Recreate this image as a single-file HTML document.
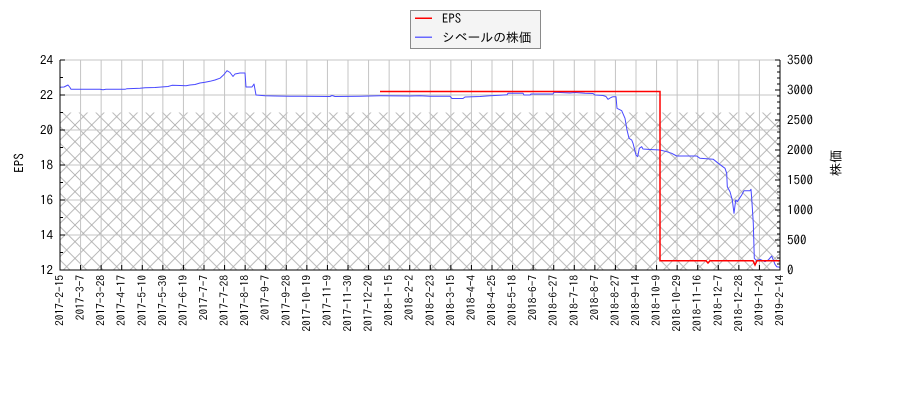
<!DOCTYPE html>
<html><head><meta charset="utf-8"><style>
html,body{margin:0;padding:0;background:#fff;}
svg{display:block;}
text{font-family:"IPAGothic","DejaVu Sans","Liberation Sans","Noto Sans CJK JP",sans-serif;fill:#000;}
</style></head><body>
<svg width="900" height="400" viewBox="0 0 900 400" xmlns="http://www.w3.org/2000/svg">
<defs>
<pattern id="hx" patternUnits="userSpaceOnUse" x="0" y="0" width="16.667" height="16.667">
<path d="M0,0 L16.667,16.667 M0,16.667 L16.667,0" stroke="#ababab" stroke-width="0.8" fill="none"/>
</pattern>
<clipPath id="pc"><rect x="60" y="60" width="720" height="210"/></clipPath>
</defs>
<rect x="0" y="0" width="900" height="400" fill="#fff"/>
<rect x="60" y="112.5" width="720" height="157.5" fill="url(#hx)"/>
<!-- grid -->
<path fill="none" stroke="#c4c4c4" stroke-width="1" d="M80.571,60V270 M101.143,60V270 M121.714,60V270 M142.286,60V270 M162.857,60V270 M183.429,60V270 M204,60V270 M224.571,60V270 M245.143,60V270 M265.714,60V270 M286.286,60V270 M306.857,60V270 M327.429,60V270 M348,60V270 M368.571,60V270 M389.143,60V270 M409.714,60V270 M430.286,60V270 M450.857,60V270 M471.429,60V270 M492,60V270 M512.571,60V270 M533.143,60V270 M553.714,60V270 M574.286,60V270 M594.857,60V270 M615.429,60V270 M636,60V270 M656.571,60V270 M677.143,60V270 M697.714,60V270 M718.286,60V270 M738.857,60V270 M759.429,60V270 M60,60H780 M60,95H780 M60,130H780 M60,165H780 M60,200H780 M60,235H780"/>
<!-- series -->
<g clip-path="url(#pc)">
<path fill="none" stroke="#4848ff" stroke-width="1" stroke-linejoin="round" d="M60,87.3 L64,87 L68,85 L70,87.5 L71,89.3 L100,89.3 L103,89.8 L106,89.3 L125,89.3 L127,88.7 L140,88.3 L145,87.8 L155,87.5 L163,86.9 L168,86.5 L172,85.3 L180,85.5 L186,85.8 L190,85 L195,84.5 L200,83 L205,82.3 L210,81.3 L215,80 L220,78.2 L224,74.5 L227,70.7 L230,72.5 L233,76.5 L235,74 L240,73 L245,73 L246,87 L252,87 L254,84 L256,95 L265,95.7 L275,96 L290,96.3 L300,96.3 L330,96.5 L332,95.5 L335,96.5 L360,96.3 L380,95.7 L410,96 L420,95.7 L430,96.3 L450,96.3 L452,98.5 L463,98.5 L465,97 L480,96.5 L490,95.8 L500,95.3 L507,94.8 L508,93.3 L523,93.3 L524,95 L530,95 L531,94 L553,94 L554,92.3 L560,92.5 L570,93 L575,92.5 L585,93.3 L593,93.5 L595,95 L603,95.5 L606,96.5 L608,99.3 L611,97.5 L613,96.7 L616,96.7 L617,108.3 L621.7,110.7 L625,118.3 L627,130 L629,138.3 L631.7,140 L633,143.3 L636,155 L637.7,156.7 L639.3,148.3 L641.7,146.7 L643,149 L650,149.5 L660,150 L666.7,151.7 L671.7,153.3 L676.7,156 L696.7,156 L700,158.3 L713.3,159.3 L718.3,163.3 L725,168.3 L726.7,173.3 L727.3,186.7 L730,191.7 L732.3,200 L734,213.3 L735.7,200 L737.3,201.7 L741.7,195 L744,190.7 L750,190.7 L751,189.3 L751.7,198.3 L753.3,223.3 L754.3,258.3 L756.7,260.7 L760,259.3 L765,261.7 L768.3,260 L771.7,256 L775,264.3 L776.7,266.7 L780,267.3"/>
<path fill="none" stroke="#ff0000" stroke-width="1.5" d="M380,91.5 H660 V260.7 H706 L708,263 L710,260.7 H753 L755,265 L757,260.7 H780"/>
</g>
<!-- spines -->
<g stroke="#000" stroke-width="1" fill="none">
<line x1="60" y1="60" x2="60" y2="270.5"/>
<line x1="59.5" y1="270" x2="780.5" y2="270"/>
<line x1="780" y1="60" x2="780" y2="270.5"/>
</g>
<!-- ticks -->
<path fill="none" stroke="#000" stroke-width="1" d="M60,270v-5 M80.571,270v-5 M101.143,270v-5 M121.714,270v-5 M142.286,270v-5 M162.857,270v-5 M183.429,270v-5 M204,270v-5 M224.571,270v-5 M245.143,270v-5 M265.714,270v-5 M286.286,270v-5 M306.857,270v-5 M327.429,270v-5 M348,270v-5 M368.571,270v-5 M389.143,270v-5 M409.714,270v-5 M430.286,270v-5 M450.857,270v-5 M471.429,270v-5 M492,270v-5 M512.571,270v-5 M533.143,270v-5 M553.714,270v-5 M574.286,270v-5 M594.857,270v-5 M615.429,270v-5 M636,270v-5 M656.571,270v-5 M677.143,270v-5 M697.714,270v-5 M718.286,270v-5 M738.857,270v-5 M759.429,270v-5 M780,270v-5
M60,60h5 M60,95h5 M60,130h5 M60,165h5 M60,200h5 M60,235h5 M60,270h5
M60,77.5h3 M60,112.5h3 M60,147.5h3 M60,182.5h3 M60,217.5h3 M60,252.5h3
M780,60h-5 M780,90h-5 M780,120h-5 M780,150h-5 M780,180h-5 M780,210h-5 M780,240h-5 M780,270h-5
M780,264h-3 M780,258h-3 M780,252h-3 M780,246h-3 M780,234h-3 M780,228h-3 M780,222h-3 M780,216h-3 M780,204h-3 M780,198h-3 M780,192h-3 M780,186h-3 M780,174h-3 M780,168h-3 M780,162h-3 M780,156h-3 M780,144h-3 M780,138h-3 M780,132h-3 M780,126h-3 M780,114h-3 M780,108h-3 M780,102h-3 M780,96h-3 M780,84h-3 M780,78h-3 M780,72h-3 M780,66h-3"/>
<!-- left labels -->
<g font-size="13" text-anchor="end" dominant-baseline="central">
<text x="53" y="60" dominant-baseline="central">24</text>
<text x="53" y="95" dominant-baseline="central">22</text>
<text x="53" y="130" dominant-baseline="central">20</text>
<text x="53" y="165" dominant-baseline="central">18</text>
<text x="53" y="200" dominant-baseline="central">16</text>
<text x="53" y="235" dominant-baseline="central">14</text>
<text x="53" y="270" dominant-baseline="central">12</text>
</g>
<!-- right labels -->
<g font-size="13">
<text x="787" y="60" dominant-baseline="central">3500</text>
<text x="787" y="90" dominant-baseline="central">3000</text>
<text x="787" y="120" dominant-baseline="central">2500</text>
<text x="787" y="150" dominant-baseline="central">2000</text>
<text x="787" y="180" dominant-baseline="central">1500</text>
<text x="787" y="210" dominant-baseline="central">1000</text>
<text x="787" y="240" dominant-baseline="central">500</text>
<text x="787" y="270" dominant-baseline="central">0</text>
</g>
<!-- x labels -->
<g font-size="11.3" text-anchor="end">
<text x="60" y="275" dominant-baseline="central" transform="rotate(-90 60 275)">2017-2-15</text>
<text x="80.571" y="275" dominant-baseline="central" transform="rotate(-90 80.571 275)">2017-3-7</text>
<text x="101.143" y="275" dominant-baseline="central" transform="rotate(-90 101.143 275)">2017-3-28</text>
<text x="121.714" y="275" dominant-baseline="central" transform="rotate(-90 121.714 275)">2017-4-17</text>
<text x="142.286" y="275" dominant-baseline="central" transform="rotate(-90 142.286 275)">2017-5-10</text>
<text x="162.857" y="275" dominant-baseline="central" transform="rotate(-90 162.857 275)">2017-5-30</text>
<text x="183.429" y="275" dominant-baseline="central" transform="rotate(-90 183.429 275)">2017-6-19</text>
<text x="204" y="275" dominant-baseline="central" transform="rotate(-90 204 275)">2017-7-7</text>
<text x="224.571" y="275" dominant-baseline="central" transform="rotate(-90 224.571 275)">2017-7-28</text>
<text x="245.143" y="275" dominant-baseline="central" transform="rotate(-90 245.143 275)">2017-8-18</text>
<text x="265.714" y="275" dominant-baseline="central" transform="rotate(-90 265.714 275)">2017-9-7</text>
<text x="286.286" y="275" dominant-baseline="central" transform="rotate(-90 286.286 275)">2017-9-28</text>
<text x="306.857" y="275" dominant-baseline="central" transform="rotate(-90 306.857 275)">2017-10-19</text>
<text x="327.429" y="275" dominant-baseline="central" transform="rotate(-90 327.429 275)">2017-11-9</text>
<text x="348" y="275" dominant-baseline="central" transform="rotate(-90 348 275)">2017-11-30</text>
<text x="368.571" y="275" dominant-baseline="central" transform="rotate(-90 368.571 275)">2017-12-20</text>
<text x="389.143" y="275" dominant-baseline="central" transform="rotate(-90 389.143 275)">2018-1-15</text>
<text x="409.714" y="275" dominant-baseline="central" transform="rotate(-90 409.714 275)">2018-2-2</text>
<text x="430.286" y="275" dominant-baseline="central" transform="rotate(-90 430.286 275)">2018-2-23</text>
<text x="450.857" y="275" dominant-baseline="central" transform="rotate(-90 450.857 275)">2018-3-15</text>
<text x="471.429" y="275" dominant-baseline="central" transform="rotate(-90 471.429 275)">2018-4-4</text>
<text x="492" y="275" dominant-baseline="central" transform="rotate(-90 492 275)">2018-4-25</text>
<text x="512.571" y="275" dominant-baseline="central" transform="rotate(-90 512.571 275)">2018-5-18</text>
<text x="533.143" y="275" dominant-baseline="central" transform="rotate(-90 533.143 275)">2018-6-7</text>
<text x="553.714" y="275" dominant-baseline="central" transform="rotate(-90 553.714 275)">2018-6-27</text>
<text x="574.286" y="275" dominant-baseline="central" transform="rotate(-90 574.286 275)">2018-7-18</text>
<text x="594.857" y="275" dominant-baseline="central" transform="rotate(-90 594.857 275)">2018-8-7</text>
<text x="615.429" y="275" dominant-baseline="central" transform="rotate(-90 615.429 275)">2018-8-27</text>
<text x="636" y="275" dominant-baseline="central" transform="rotate(-90 636 275)">2018-9-14</text>
<text x="656.571" y="275" dominant-baseline="central" transform="rotate(-90 656.571 275)">2018-10-9</text>
<text x="677.143" y="275" dominant-baseline="central" transform="rotate(-90 677.143 275)">2018-10-29</text>
<text x="697.714" y="275" dominant-baseline="central" transform="rotate(-90 697.714 275)">2018-11-16</text>
<text x="718.286" y="275" dominant-baseline="central" transform="rotate(-90 718.286 275)">2018-12-7</text>
<text x="738.857" y="275" dominant-baseline="central" transform="rotate(-90 738.857 275)">2018-12-28</text>
<text x="759.429" y="275" dominant-baseline="central" transform="rotate(-90 759.429 275)">2019-1-24</text>
<text x="780" y="275" dominant-baseline="central" transform="rotate(-90 780 275)">2019-2-14</text>
</g>
<text x="19" y="163" font-size="13" text-anchor="middle" dominant-baseline="central" transform="rotate(-90 19 163)">EPS</text>
<text x="836" y="163" font-size="13" text-anchor="middle" dominant-baseline="central" transform="rotate(-90 836 163)">株価</text>
<!-- legend -->
<rect x="410.5" y="10.5" width="130" height="38" fill="#f4f4f4" stroke="#8a8a8a" stroke-width="1"/>
<line x1="415" y1="18.3" x2="432" y2="18.3" stroke="#ff0000" stroke-width="1.5"/>
<line x1="415" y1="37.3" x2="432" y2="37.3" stroke="#6868ff" stroke-width="1.5"/>
<text x="442" y="18.5" font-size="12.8" dominant-baseline="central">EPS</text>
<text x="442" y="37.5" font-size="12.8" dominant-baseline="central">シベールの株価</text>
</svg>
</body></html>
